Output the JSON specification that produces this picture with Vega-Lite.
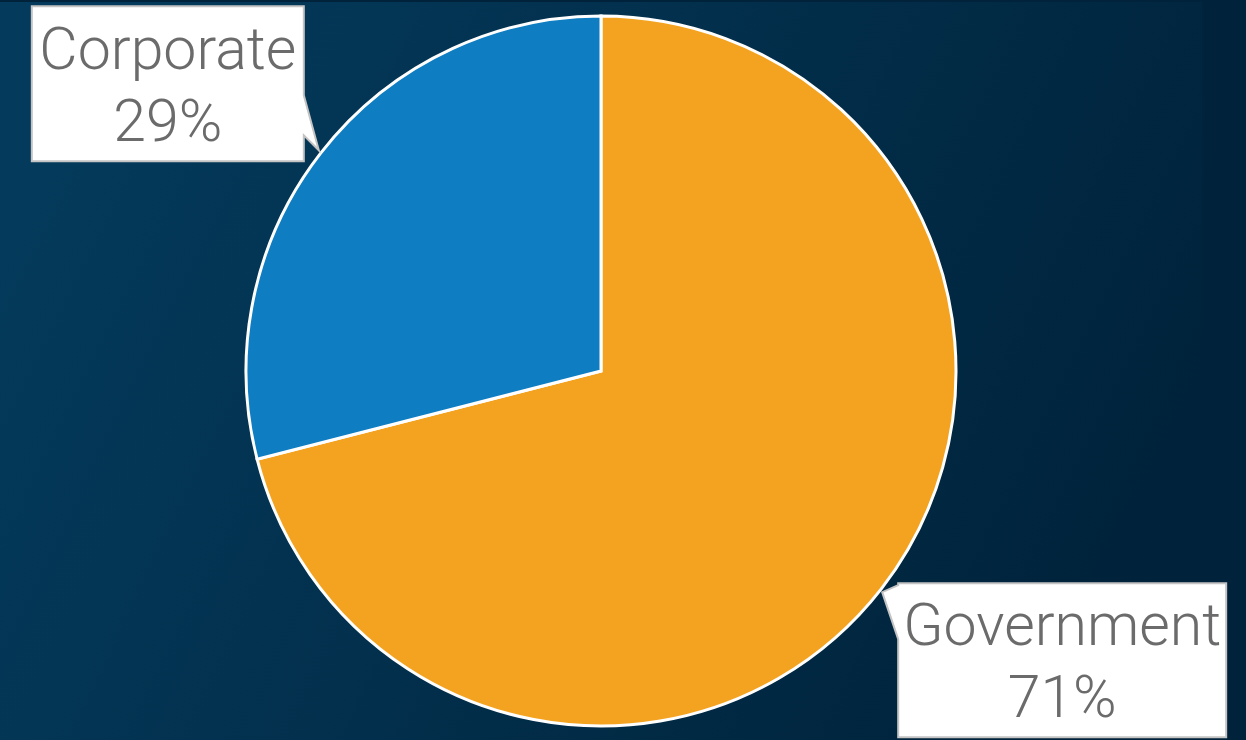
{
  "$schema": "https://vega.github.io/schema/vega-lite/v6.json",
  "width": 1202,
  "height": 738,
  "autosize": {"type": "none"},
  "padding": {"left": 0, "top": 2, "right": 44, "bottom": 0},
  "background": "#00223a",
  "config": {
    "view": {
      "stroke": null,
      "fill": {
        "gradient": "linear",
        "x1": 0, "y1": 0.35, "x2": 1, "y2": 0.65,
        "stops": [
          {"offset": 0, "color": "#043a5b"},
          {"offset": 1, "color": "#00223a"}
        ]
      }
    }
  },
  "data": {
    "values": [
      {"category": "Government", "value": 71},
      {"category": "Corporate", "value": 29}
    ]
  },
  "transform": [
    {"calculate": "datum.category === 'Government' ? 0 : 1", "as": "ord"},
    {"joinaggregate": [{"op": "sum", "field": "value", "as": "total"}]},
    {"window": [{"op": "sum", "field": "value", "as": "cum"}], "sort": [{"field": "ord", "order": "ascending"}], "frame": [null, 0]},
    {"calculate": "(datum.cum - datum.value / 2) / datum.total * 2 * PI - 5 * PI / 180", "as": "ang"},
    {"calculate": "width / 2 + 14 + 532 * sin(datum.ang)", "as": "lx"},
    {"calculate": "height / 2 + 1 - 532 * cos(datum.ang)", "as": "ly"},
    {"calculate": "datum.category + '\\n' + format(datum.value / datum.total, '.0%')", "as": "label"}
  ],
  "layer": [
    {
      "mark": {"type": "arc", "outerRadius": 355, "stroke": "#ffffff", "strokeWidth": 3, "strokeJoin": "miter"},
      "encoding": {
        "theta": {"field": "value", "type": "quantitative", "stack": true},
        "order": {"field": "ord", "type": "quantitative"},
        "color": {
          "field": "category",
          "type": "nominal",
          "scale": {"domain": ["Government", "Corporate"], "range": ["#f4a321", "#0e7dc2"]},
          "legend": null
        }
      }
    },
    {
      "mark": {"type": "point", "filled": true, "fill": "#ffffff", "fillOpacity": 1, "stroke": "#c4c4c4", "strokeWidth": 2, "opacity": 1},
      "encoding": {
        "x": {"field": "lx", "type": "quantitative", "scale": null},
        "y": {"field": "ly", "type": "quantitative", "scale": null},
        "size": {"value": 4},
        "shape": {
          "field": "category",
          "type": "nominal",
          "scale": {
            "domain": ["Government", "Corporate"],
            "range": [
              "M-164,-77 H164 V77 H-164 V-21 L-180,-68 L-164,-75 Z",
              "M-136,-77.5 H136 V11.5 L151,66.5 L136,51.5 V77.5 H-136 Z"
            ]
          },
          "legend": null
        }
      }
    },
    {
      "mark": {
        "type": "text",
        "font": "Roboto",
        "fontWeight": 300,
        "fontSize": 59,
        "lineHeight": 72,
        "lineBreak": "\n",
        "align": "center",
        "baseline": "middle",
        "dy": -33,
        "color": "#6b6b6b"
      },
      "encoding": {
        "x": {"field": "lx", "type": "quantitative", "scale": null},
        "y": {"field": "ly", "type": "quantitative", "scale": null},
        "text": {"field": "label"}
      }
    }
  ]
}
